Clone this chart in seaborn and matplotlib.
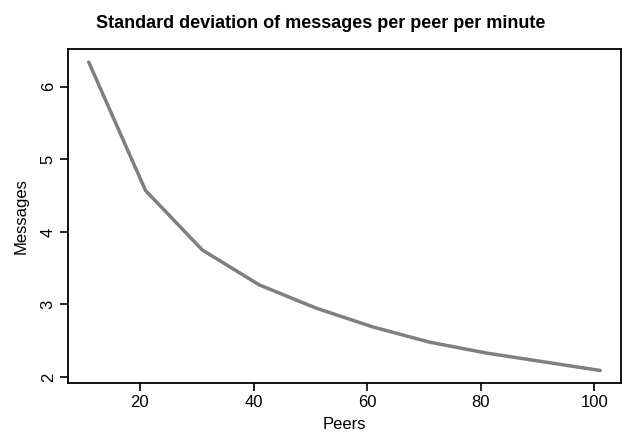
import matplotlib

matplotlib.use("Agg")
import matplotlib.pyplot as plt
import seaborn as sns
import pandas as pd

# values
peers = [11, 21, 31, 41, 51, 61, 71, 81, 91, 101]
std_messages = [6.34, 4.57, 3.75, 3.27, 2.95, 2.69, 2.48, 2.33, 2.21, 2.09]
x_ticks = [20, 40, 60, 80, 100]
y_ticks = [2, 3, 4, 5, 6]

df = pd.DataFrame({"Peers": peers, "Messages": std_messages})

sns.set_style("white")
plt.rcParams["font.family"] = ["Liberation Sans", "DejaVu Sans"]
plt.rcParams["text.color"] = "black"
plt.rcParams["axes.labelcolor"] = "black"
plt.rcParams["xtick.color"] = "black"
plt.rcParams["ytick.color"] = "black"

fig = plt.figure(figsize=(6.32, 4.38), dpi=100)
ax = fig.add_axes([0.108, 0.126, 0.874, 0.762])

sns.lineplot(data=df, x="Peers", y="Messages", color="#7f7f7f", linewidth=2.5, ax=ax)

ax.set_xlim(7.4, 104.6)
ax.set_ylim(1.92, 6.52)
ax.set_xticks(x_ticks)
ax.set_yticks(y_ticks)
ax.set_yticklabels([str(v) for v in y_ticks], rotation=90, va="center")
ax.tick_params(axis="both", direction="out", length=6, width=1.2,
               labelsize=12, pad=3, bottom=True, left=True)

for side in ax.spines.values():
    side.set_visible(True)
    side.set_color("black")
    side.set_linewidth(1.3)

ax.set_xlabel("Peers", fontsize=12, labelpad=5)
ax.set_ylabel("Messages", fontsize=12, labelpad=9)
fig.text(0.507, 0.947, "Standard deviation of messages per peer per minute",
         ha="center", va="center", fontsize=13, fontweight="bold")

fig.savefig("out.png", dpi=100)
plt.close(fig)
